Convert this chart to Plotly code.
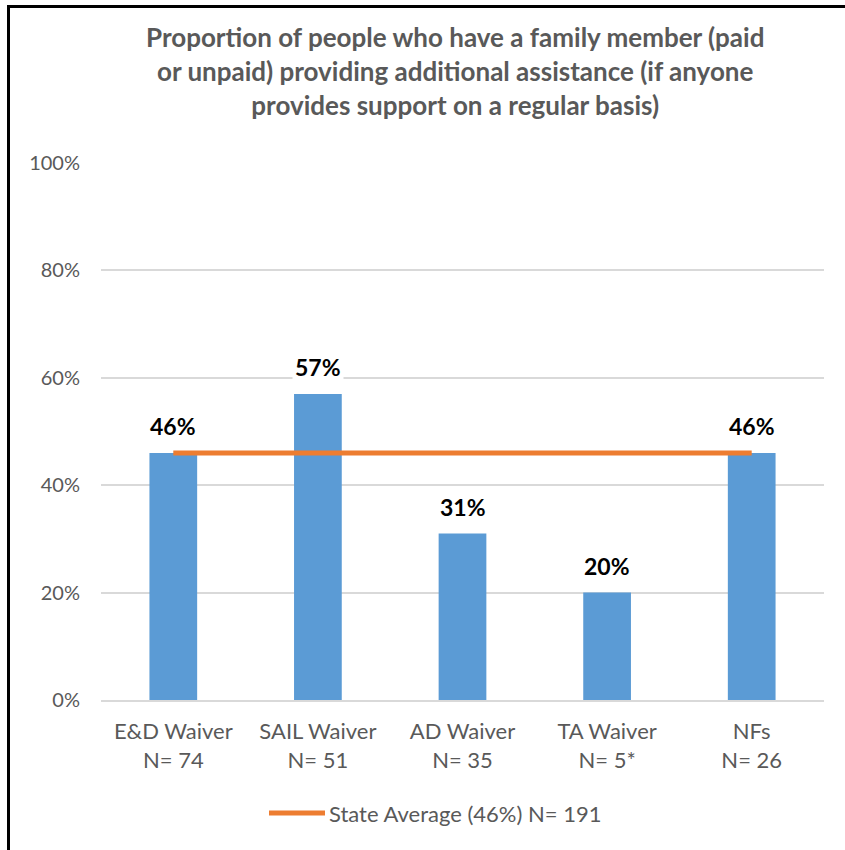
import plotly.graph_objects as go

# Programme groups, their sample sizes and the share with family support
programs = ["E&D Waiver", "SAIL Waiver", "AD Waiver", "TA Waiver", "NFs"]
sample_sizes = ["N= 74", "N= 51", "N= 35", "N= 5*", "N= 26"]
share_pct = [46, 57, 31, 20, 46]
state_average_pct = 46
state_n = 191

tick_vals = [0, 20, 40, 60, 80, 100]
tick_text = ["0%", "20%", "40%", "60%", "80%", "100%"]

W, H = 845, 850
M_L, M_R, M_T, M_B = 101, 21, 163, 150

FONT = "Lato"
GREY = "#595959"
BAR_BLUE = "#5B9BD5"
ORANGE = "#ED7D31"

categories = [f"{p}<br>{n}" for p, n in zip(programs, sample_sizes)]

fig = go.Figure()

fig.add_trace(go.Bar(
    x=categories,
    y=share_pct,
    marker=dict(color=BAR_BLUE, line=dict(width=0)),
    showlegend=False,
    hoverinfo="skip",
))

fig.add_trace(go.Scatter(
    x=[categories[0], categories[-1]],
    y=[state_average_pct, state_average_pct],
    mode="lines",
    line=dict(color=ORANGE, width=5),
    showlegend=False,
    hoverinfo="skip",
))

# Bold value labels above each bar, on a white backing
for cat, v in zip(categories, share_pct):
    fig.add_annotation(
        x=cat, y=v, text=f"<b>{v}%</b>",
        showarrow=False, yanchor="bottom", yshift=10,
        font=dict(family=FONT, size=23, color="#000000"),
        bgcolor="white", borderpad=2,
    )


def px_x(px):
    return (px - M_L) / (W - M_L - M_R)


def px_y(py):
    return (H - M_B - py) / (H - M_T - M_B)


# Chart title
fig.add_annotation(
    xref="paper", yref="paper", x=px_x(455), y=px_y(71),
    text="<b>Proportion of people who have a family member (paid<br>"
         "or unpaid) providing additional assistance (if anyone<br>"
         "provides support on a regular basis)</b>",
    showarrow=False, xanchor="center", yanchor="middle", align="center",
    font=dict(family=FONT, size=26, color=GREY),
)

# Legend entry for the state average line
fig.add_shape(
    type="line", xref="paper", yref="paper",
    x0=px_x(269), x1=px_x(325), y0=px_y(813), y1=px_y(813),
    line=dict(color=ORANGE, width=5),
)
fig.add_annotation(
    xref="paper", yref="paper", x=px_x(327), y=px_y(813),
    text=f"State Average ({state_average_pct}%) N= {state_n}",
    showarrow=False, xanchor="left", yanchor="middle",
    font=dict(family=FONT, size=22, color=GREY),
)

# Outer frame of the chart (left and top edges)
fig.add_shape(
    type="line", xref="paper", yref="paper",
    x0=px_x(8.5), x1=px_x(8.5), y0=px_y(6.5), y1=px_y(900),
    line=dict(color="black", width=3),
)
fig.add_shape(
    type="line", xref="paper", yref="paper",
    x0=px_x(7), x1=px_x(900), y0=px_y(6.5), y1=px_y(6.5),
    line=dict(color="black", width=3),
)

fig.update_layout(
    width=W, height=H,
    margin=dict(l=M_L, r=M_R, t=M_T, b=M_B),
    paper_bgcolor="white",
    plot_bgcolor="white",
    bargap=0.67,
    font=dict(family=FONT, size=20, color=GREY),
    showlegend=False,
)

fig.update_yaxes(
    range=[0, 100],
    tickvals=tick_vals,
    ticktext=tick_text,
    showgrid=True, gridcolor="#D9D9D9", gridwidth=1.5,
    zeroline=False, showline=False, ticks="",
    ticklabelstandoff=20,
    tickfont=dict(family=FONT, size=20, color=GREY),
)
fig.update_xaxes(
    showline=True, linecolor="#D9D9D9", linewidth=2,
    ticks="", ticklabelstandoff=11,
    tickfont=dict(family=FONT, size=22, color=GREY),
)

fig.write_html("out.html")
